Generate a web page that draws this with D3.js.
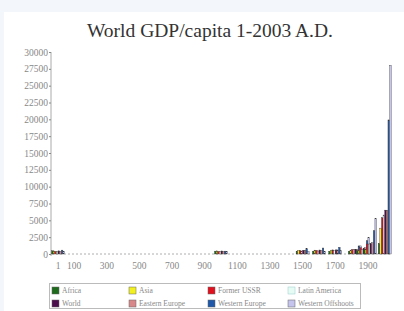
<!DOCTYPE html>
<html>
<head>
<meta charset="utf-8">
<script src="https://cdn.jsdelivr.net/npm/d3@7"></script>
<style>
  html, body { margin: 0; padding: 0; background: #f3f7fb; }
  #chart { width: 404px; height: 311px; }
  text { font-family: "Liberation Serif", "DejaVu Serif", serif; }
</style>
</head>
<body>
<div id="chart"></div>
<script>
const years = [1, 1000, 1500, 1600, 1700, 1820, 1870, 1913, 2003];
const regions = ["Africa", "Asia", "Former USSR", "Latin America",
                 "World", "Eastern Europe", "Western Europe", "Western Offshoots"];
const regionColors = ["#1e6b1e", "#f2f01e", "#e0101e", "#e6fbf4",
                      "#4a0c4a", "#d88888", "#1f58a8", "#c4c4ec"];
// per-year values, in region order
const africa     = [472, 425, 414, 422, 421, 420, 500, 637, 1549];
const asia       = [456, 465, 568, 574, 572, 577, 550, 658, 3842];
const ussr       = [400, 400, 499, 552, 610, 688, 943, 1488, 5397];
const latAm      = [400, 400, 416, 438, 527, 692, 681, 1481, 5786];
const world      = [467, 453, 566, 596, 615, 667, 873, 1526, 6516];
const eastEurope = [412, 400, 496, 548, 606, 683, 937, 1695, 6476];
const westEurope = [576, 427, 771, 889, 997, 1202, 1960, 3457, 19912];
const offshoots  = [400, 400, 400, 400, 476, 1202, 2419, 5233, 28039];
const series = [africa, asia, ussr, latAm, world, eastEurope, westEurope, offshoots];

const yTicks = d3.range(0, 30001, 2500);
const xTicks = [1, 100, 300, 500, 700, 900, 1100, 1300, 1500, 1700, 1900];

function draw() {
  const W = 404, H = 311;
  const svg = d3.select("#chart").append("svg")
    .attr("width", W).attr("height", H);

  svg.append("rect").attr("x", 4).attr("y", 12)
    .attr("width", W - 4).attr("height", H - 12).attr("fill", "#fff");

  svg.append("text")
    .attr("x", 210).attr("y", 37)
    .attr("text-anchor", "middle")
    .attr("fill", "#333")
    .style("font-size", "19.5px")
    .text("World GDP/capita 1-2003 A.D.");

  const x = d3.scaleLinear().domain([1, 2003]).range([58, 384.7]);
  const y = d3.scaleLinear().domain([0, 30000]).range([254, 52]);
  const barW = 1.63;

  // y axis
  const yAxis = svg.append("g")
    .attr("transform", "translate(51,0)")
    .attr("color", "#888")
    .call(d3.axisLeft(y).tickValues(yTicks).tickFormat(d3.format("d"))
      .tickSize(2).tickPadding(1));
  yAxis.select(".domain").attr("stroke", "#aaa").attr("d", "M0,52V256");
  yAxis.selectAll(".tick text")
    .style("font-size", "9.5px").style("font-family", "Liberation Serif, serif");

  // dashed baseline
  svg.append("line")
    .attr("x1", 52).attr("x2", 391)
    .attr("y1", y(0)).attr("y2", y(0))
    .attr("stroke", "#999").attr("stroke-width", 0.8)
    .attr("stroke-dasharray", "2,2");

  // x labels
  svg.append("g").selectAll("text")
    .data(xTicks)
    .join("text")
    .attr("x", d => x(d))
    .attr("y", 269)
    .attr("text-anchor", "middle")
    .attr("fill", "#888")
    .style("font-size", "9.5px")
    .text(d => d);

  // bars
  const bars = [];
  years.forEach((yr, j) => {
    series.forEach((s, i) => bars.push({ yr, i, v: s[j] }));
  });
  svg.append("g").selectAll("rect")
    .data(bars)
    .join("rect")
    .attr("x", d => x(d.yr) - 4 * barW + d.i * barW)
    .attr("y", d => y(d.v))
    .attr("width", barW)
    .attr("height", d => y(0) - y(d.v))
    .attr("fill", d => regionColors[d.i])
    .attr("stroke", "#333")
    .attr("stroke-width", 0.35);

  // legend
  const lg = svg.append("g");
  lg.append("rect").attr("x", 49.5).attr("y", 283.5)
    .attr("width", 311).attr("height", 25)
    .attr("fill", "#fff").attr("stroke", "#bbb");
  const colX = [52, 129, 208, 288];
  const items = lg.selectAll("g.item")
    .data(regions)
    .join("g")
    .attr("transform", (d, i) => `translate(${colX[i % 4]},${i < 4 ? 287 : 300})`);
  items.append("rect")
    .attr("width", 7).attr("height", 7)
    .attr("fill", (d, i) => regionColors[i])
    .attr("stroke", (d, i) => i === 3 ? "#9cc" : "#666")
    .attr("stroke-width", 0.5);
  items.append("text")
    .attr("x", 10).attr("y", 6)
    .attr("fill", "#888")
    .style("font-size", "7.5px")
    .text(d => d);
}

draw();
</script>
</body>
</html>
